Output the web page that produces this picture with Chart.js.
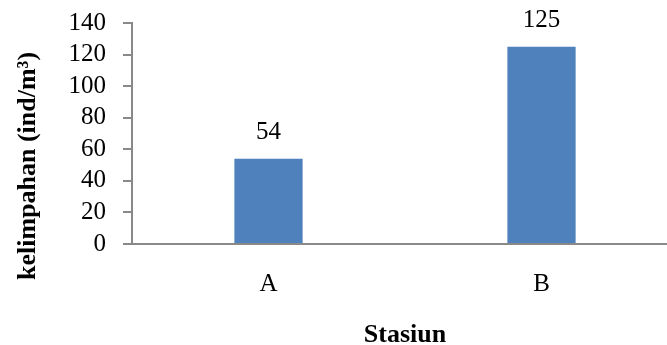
<!DOCTYPE html>
<html>
<head>
<meta charset="utf-8">
<script src="https://cdn.jsdelivr.net/npm/chart.js@4"></script>
<style>
  html, body { margin: 0; padding: 0; background: #fff; overflow: hidden; }
</style>
</head>
<body>
<canvas id="chart" width="678" height="345"></canvas>
<script>
// data
var stations = ['A', 'B'];
var abundance = [54, 125];
var yTicks = [0, 20, 40, 60, 80, 100, 120, 140];
var yTitle = 'kelimpahan (ind/m³)';
var xTitle = 'Stasiun';

var serif = '"Liberation Serif", "Times New Roman", serif';

// value labels over the bars
var valueLabels = {
  id: 'valueLabels',
  afterDatasetsDraw: function (chart) {
    var ctx = chart.ctx;
    var meta = chart.getDatasetMeta(0);
    ctx.save();
    ctx.font = '25px ' + serif;
    ctx.fillStyle = '#000';
    ctx.textAlign = 'center';
    ctx.textBaseline = 'middle';
    meta.data.forEach(function (bar, i) {
      ctx.fillText(String(abundance[i]), bar.x, bar.y - 26);
    });
    ctx.restore();
  }
};

// y title sits a bit lower than the axis centre in the original
var yTitlePlugin = {
  id: 'yTitlePlugin',
  afterDraw: function (chart) {
    var ctx = chart.ctx;
    var area = chart.chartArea;
    ctx.save();
    ctx.translate(28, area.bottom - 78);
    ctx.rotate(-Math.PI / 2);
    ctx.font = 'bold 26px ' + serif;
    ctx.fillStyle = '#000';
    ctx.textAlign = 'center';
    ctx.textBaseline = 'middle';
    ctx.fillText(yTitle, 0, 0);
    ctx.restore();
  }
};

var ctx = document.getElementById('chart').getContext('2d');
var chart = new Chart(ctx, {
  type: 'bar',
  data: {
    labels: stations,
    datasets: [{
      data: abundance,
      backgroundColor: '#4F81BD',
      borderWidth: 0,
      barPercentage: 0.5,
      categoryPercentage: 0.5
    }]
  },
  options: {
    responsive: false,
    animation: false,
    layout: { padding: { top: 23, right: 0, bottom: 0, left: 0 } },
    plugins: {
      legend: { display: false },
      tooltip: { enabled: false }
    },
    scales: {
      x: {
        grid: { display: false, drawTicks: false },
        border: { color: '#898989', width: 2 },
        ticks: { color: '#000', padding: 25, font: { family: serif, size: 25 } },
        title: {
          display: true,
          text: xTitle,
          color: '#000',
          padding: 0,
          font: { family: serif, size: 26, weight: 'bold', lineHeight: 0.75 }
        },
        afterFit: function (scale) { scale.height = 101; }
      },
      y: {
        min: yTicks[0],
        max: yTicks[yTicks.length - 1],
        grid: { drawOnChartArea: false, drawTicks: true, tickLength: 9, color: '#898989', lineWidth: 2 },
        border: { color: '#898989', width: 2 },
        afterBuildTicks: function (scale) {
          scale.ticks = yTicks.map(function (v) { return { value: v }; });
        },
        ticks: {
          color: '#000', padding: 17, autoSkip: false,
          font: { family: serif, size: 25, lineHeight: 1 }
        },
        afterFit: function (scale) {
          scale.width = 132;
          scale.paddingTop = 0;
          scale.paddingBottom = 0;
        }
      }
    }
  },
  plugins: [valueLabels, yTitlePlugin]
});
</script>
</body>
</html>
